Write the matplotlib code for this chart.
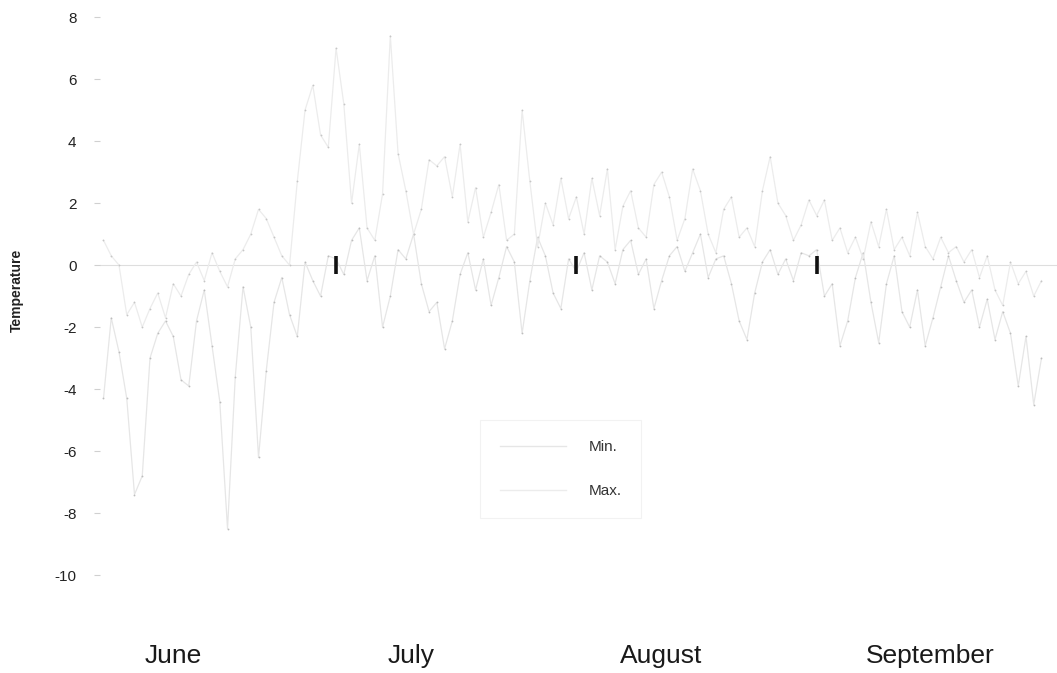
import matplotlib
matplotlib.use("Agg")
import matplotlib.pyplot as plt
from matplotlib.lines import Line2D
import numpy as np

plt.rcParams['font.family'] = ['Liberation Sans', 'DejaVu Sans']
plt.rcParams['axes.unicode_minus'] = False

# daily temperatures, 1 June .. 30 September
t_min = [
    # June
    -4.3, -1.7, -2.8, -4.3, -7.4, -6.8, -3.0, -2.2, -1.8, -2.3,
    -3.7, -3.9, -1.8, -0.8, -2.6, -4.4, -8.5, -3.6, -0.7, -2.0,
    -6.2, -3.4, -1.2, -0.4, -1.6, -2.3, 0.1, -0.5, -1.0, 0.3,
    # July
    0.2, -0.3, 0.8, 1.2, -0.5, 0.3, -2.0, -1.0, 0.5, 0.2,
    1.0, -0.6, -1.5, -1.2, -2.7, -1.8, -0.3, 0.4, -0.8, 0.2,
    -1.3, -0.4, 0.6, 0.1, -2.2, -0.5, 0.9, 0.3, -0.9, -1.4, 0.2,
    # August
    -0.2, 0.4, -0.8, 0.3, 0.1, -0.6, 0.5, 0.8, -0.3, 0.2,
    -1.4, -0.5, 0.3, 0.6, -0.2, 0.4, 1.0, -0.4, 0.2, 0.3,
    -0.6, -1.8, -2.4, -0.9, 0.1, 0.5, -0.3, 0.2, -0.5, 0.4, 0.3,
    # September
    0.5, -1.0, -0.6, -2.6, -1.8, -0.4, 0.4, -1.2, -2.5, -0.6,
    0.3, -1.5, -2.0, -0.8, -2.6, -1.7, -0.7, 0.3, -0.5, -1.2,
    -0.8, -2.0, -1.1, -2.4, -1.5, -2.2, -3.9, -2.3, -4.5, -3.0,
]
t_max = [
    # June
    0.8, 0.3, 0.0, -1.6, -1.2, -2.0, -1.4, -0.9, -1.7, -0.6,
    -1.0, -0.3, 0.1, -0.5, 0.4, -0.2, -0.7, 0.2, 0.5, 1.0,
    1.8, 1.5, 0.9, 0.3, 0.0, 2.7, 5.0, 5.8, 4.2, 3.8,
    # July
    7.0, 5.2, 2.0, 3.9, 1.2, 0.8, 2.3, 7.4, 3.6, 2.4,
    1.0, 1.8, 3.4, 3.2, 3.5, 2.2, 3.9, 1.4, 2.5, 0.9,
    1.7, 2.6, 0.8, 1.0, 5.0, 2.7, 0.6, 2.0, 1.3, 2.8, 1.5,
    # August
    2.2, 1.0, 2.8, 1.6, 3.1, 0.5, 1.9, 2.4, 1.2, 0.9,
    2.6, 3.0, 2.2, 0.8, 1.5, 3.1, 2.4, 1.0, 0.4, 1.8,
    2.2, 0.9, 1.2, 0.6, 2.4, 3.5, 2.0, 1.6, 0.8, 1.3, 2.1,
    # September
    1.6, 2.1, 0.8, 1.2, 0.4, 0.9, 0.2, 1.4, 0.6, 1.8,
    0.5, 0.9, 0.3, 1.7, 0.6, 0.2, 0.9, 0.4, 0.6, 0.1,
    0.5, -0.4, 0.3, -0.8, -1.3, 0.1, -0.6, -0.2, -1.0, -0.5,
]
months = ["June", "July", "August", "September"]
month_len = [30, 31, 31, 30]
yticks = [-10, -8, -6, -4, -2, 0, 2, 4, 6, 8]

days = np.arange(len(t_min))
bounds = np.cumsum(month_len)

c_min = "#e6e6e6"
c_max = "#ececec"

fig = plt.figure(figsize=(10.57, 6.73), dpi=100)
ax = fig.add_axes([100 / 1057, 1 - 590 / 673, 957 / 1057, 580 / 673])

ax.axhline(0, color="#dedede", lw=0.8, zorder=1)
ax.plot(days, t_min, "-", color=c_min, lw=0.9,
        marker="o", ms=1.3, mfc="#bdbdbd", mec="none")
ax.plot(days, t_max, "-", color=c_max, lw=0.9,
        marker="o", ms=1.3, mfc="#c6c6c6", mec="none")

# month separators on the zero line
for b in bounds[:-1]:
    ax.plot([b, b], [-0.3, 0.3], color="#111111", lw=2.6, solid_capstyle="butt")

ax.set_xlim(-0.45, 123.0)
ax.set_ylim(-10.48, 8.23)
ax.set_yticks(yticks)
ax.set_yticklabels([str(v) for v in yticks])
ax.tick_params(axis="y", length=4, color="#d0d0d0", pad=13, labelsize=11,
               labelcolor="#222222")
ax.set_xticks([])
for s in ax.spines.values():
    s.set_visible(False)

label_pos = [9.0, 39.7, 71.9, 106.6]
for m, x in zip(months, label_pos):
    ax.text(x, -12.6, m, ha="center", va="center", fontsize=19,
            color="#1a1a1a", clip_on=False)

fig.text(17 / 1057, 1 - 290 / 673, "Temperature", rotation=90, ha="center",
         va="center", fontsize=10, fontweight="bold", color="#222222")

handles = [Line2D([], [], color=c_min, lw=1.0), Line2D([], [], color=c_max, lw=1.0)]
leg = ax.legend(handles, ["Min.", "Max."], loc="upper left",
                bbox_to_anchor=((480 - 100) / 957, (590 - 420) / 580),
                borderaxespad=0, fontsize=11, handlelength=4.3,
                labelspacing=2.0, borderpad=1.3, handletextpad=1.5,
                frameon=True, fancybox=False)
leg.get_frame().set_edgecolor("#efefef")
leg.get_frame().set_linewidth(0.8)
for t in leg.get_texts():
    t.set_color("#333333")

plt.savefig("out.png", dpi=100)
plt.close()
